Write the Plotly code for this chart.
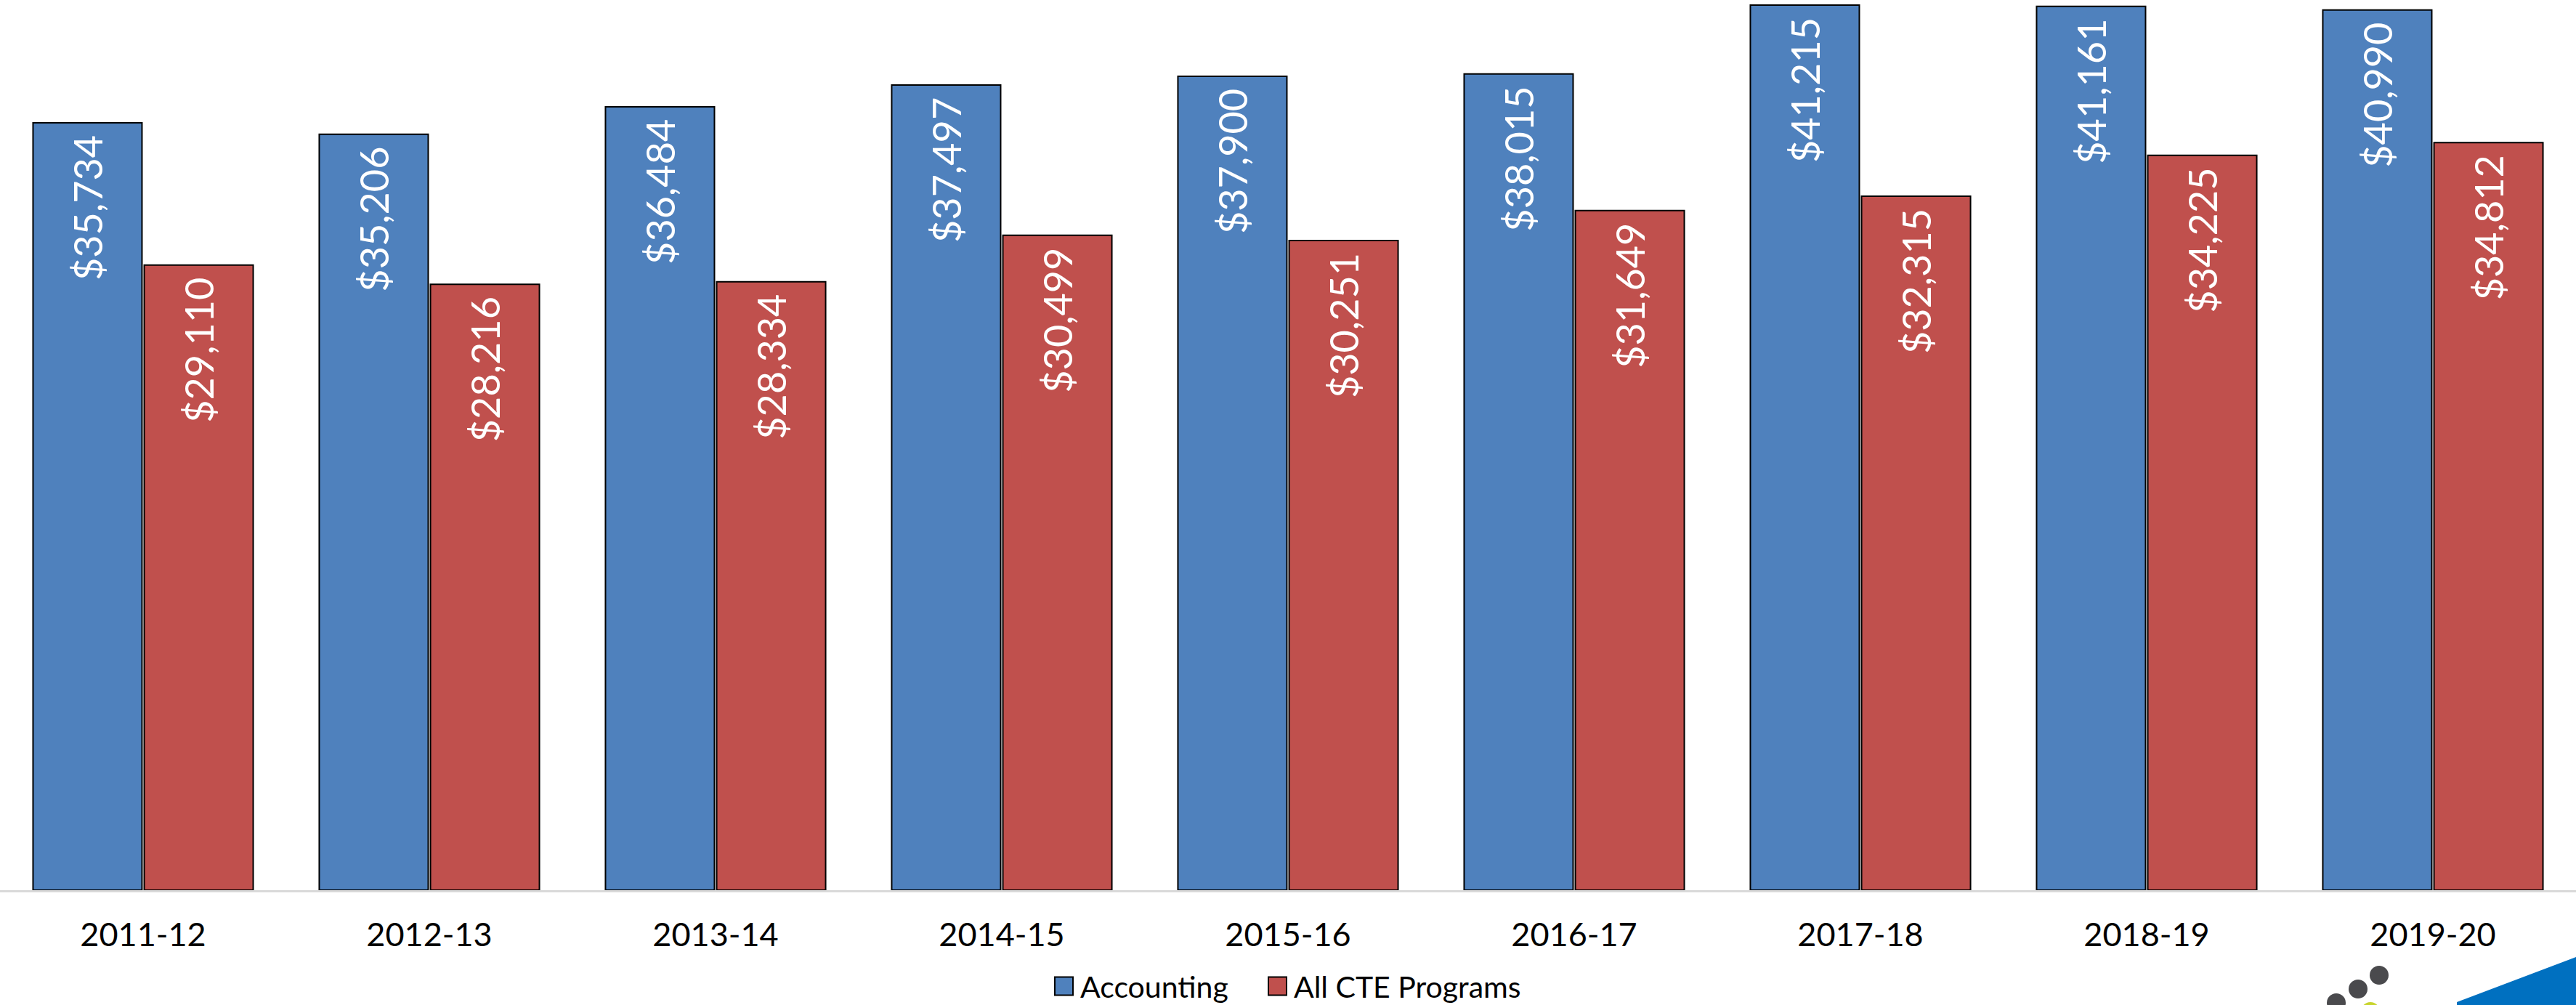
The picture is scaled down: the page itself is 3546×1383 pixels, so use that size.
import plotly.graph_objects as go

years = ["2011-12", "2012-13", "2013-14", "2014-15", "2015-16",
         "2016-17", "2017-18", "2018-19", "2019-20"]
accounting = [35734, 35206, 36484, 37497, 37900, 38015, 41215, 41161, 40990]
all_cte = [29110, 28216, 28334, 30499, 30251, 31649, 32315, 34225, 34812]
series_names = ["Accounting", "All CTE Programs"]
colors = ["#4F81BD", "#C0504D"]

W, H = 3546, 1383
PLOT_BOTTOM = 1225
FONT = "Lato, 'Open Sans', sans-serif"

fig = go.Figure()
for name, vals, col in zip(series_names, [accounting, all_cte], colors):
    fig.add_trace(go.Bar(
        x=years, y=vals, name=name, showlegend=False,
        marker=dict(color=col, line=dict(color="#000000", width=2)),
        text=[f"${v:,}\u00a0" for v in vals],
        textposition="inside", insidetextanchor="end", textangle=-90,
        textfont=dict(color="white", size=54, family=FONT),
        cliponaxis=False,
    ))

fig.update_layout(
    width=W, height=H,
    margin=dict(l=0, r=0, t=0, b=H - PLOT_BOTTOM, autoexpand=False),
    paper_bgcolor="white", plot_bgcolor="white",
    barmode="group", bargap=0.223, bargroupgap=0.02,
    font=dict(family=FONT, color="black"),
    showlegend=False,
    xaxis=dict(type="category", showgrid=False, showline=True, linecolor="#D9D9D9", linewidth=3,
               ticks="", tickfont=dict(size=45, color="black"), ticklabelstandoff=20,
               automargin=False),
    yaxis=dict(visible=False, range=[0, 41455], showgrid=False, zeroline=False),
)


def px2paper(px, py):
    return px / W, (PLOT_BOTTOM - py) / PLOT_BOTTOM


# legend (drawn with swatches + text so the swatches match the reference size)
legend_y = 1357
sw = 25
for name, col, sx in zip(series_names, colors, [1452, 1746]):
    x0, y0 = px2paper(sx, legend_y + sw / 2)
    x1, y1 = px2paper(sx + sw, legend_y - sw / 2)
    fig.add_shape(type="rect", xref="paper", yref="paper", x0=x0, y0=y0, x1=x1, y1=y1,
                  fillcolor=col, line=dict(color="#000000", width=2))
    tx, ty = px2paper(sx + sw + 8, legend_y)
    fig.add_annotation(xref="paper", yref="paper", x=tx, y=ty, text=name, showarrow=False,
                       xanchor="left", yanchor="middle", font=dict(size=41, color="black", family=FONT))

# decorative logo fragment in the bottom-right corner
for cx, cy, r, c in [(3275, 1342, 13, "#4A4A4D"), (3246, 1361, 13, "#4A4A4D"),
                     (3216, 1380, 13, "#4A4A4D"), (3263, 1392, 13, "#C8D42E")]:
    x0, y0 = px2paper(cx - r, cy + r)
    x1, y1 = px2paper(cx + r, cy - r)
    fig.add_shape(type="circle", xref="paper", yref="paper", x0=x0, y0=y0, x1=x1, y1=y1,
                  fillcolor=c, line=dict(width=0), layer="above")

pts = [(3382, 1383), (3382, 1379), (3546, 1317), (3546, 1383)]
path = "M " + " L ".join(f"{px2paper(a, b)[0]},{px2paper(a, b)[1]}" for a, b in pts) + " Z"
fig.add_shape(type="path", xref="paper", yref="paper", path=path,
              fillcolor="#0070C0", line=dict(width=0), layer="above")

fig.write_html("out.html", config={"displayModeBar": False},
               post_script="document.body.style.margin='0';document.body.style.overflow='hidden';")
